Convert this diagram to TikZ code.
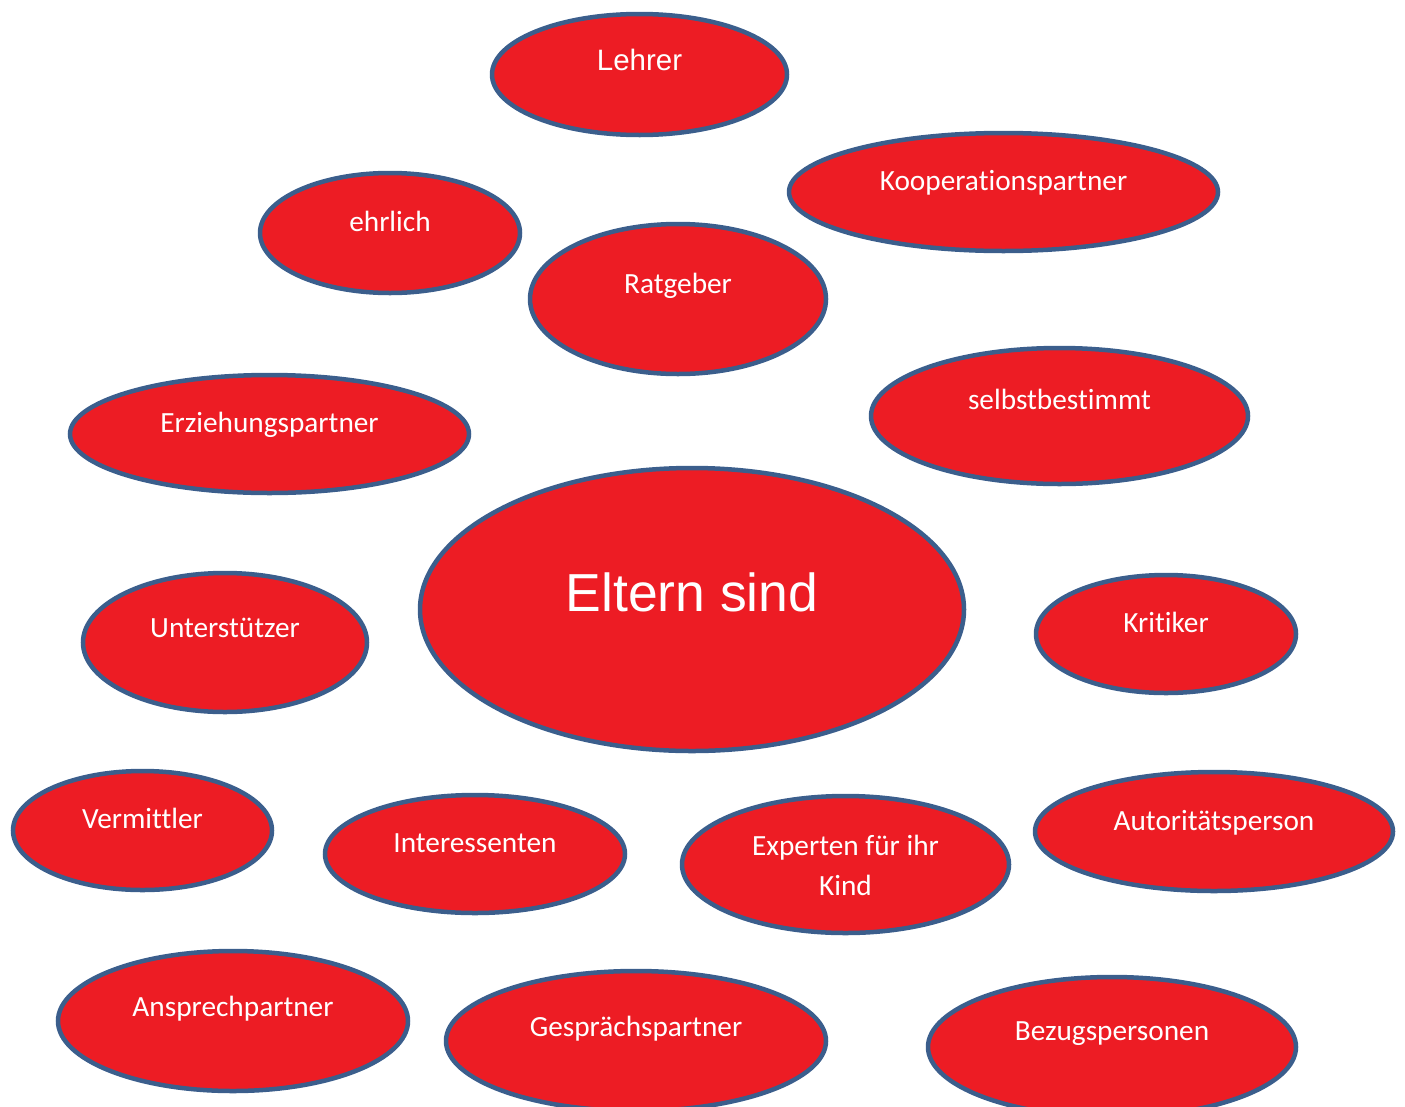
\documentclass[tikz,border=0pt]{standalone}
\usepackage{fontspec}
\setmainfont[Ligatures=NoCommon]{Carlito}
\newfontfamily\arialfont{Liberation Sans}
\usetikzlibrary{shapes.geometric}
\definecolor{bubblered}{HTML}{ED1C24}
\definecolor{bubbleedge}{HTML}{3B5E8C}
\tikzset{
  bubble/.style={ellipse, draw=bubbleedge, fill=bubblered, line width=4.5pt, inner sep=0pt},
  lbl/.style={text=white, anchor=base, font=\fontsize{29.3}{40}\selectfont, inner sep=0pt},
  albl/.style={text=white, anchor=base, font=\arialfont\fontsize{29.5}{34}\selectfont, inner sep=0pt},
}
\begin{document}
\begin{tikzpicture}[x=1pt,y=-1pt]
\useasboundingbox (0,0) rectangle (1405,1106);
\clip (0,0) rectangle (1405,1106);
% ellipses
\node[bubble, minimum width=295, minimum height=121] (lehrer) at (639.5,74.5) {};
\node[bubble, minimum width=429, minimum height=118] (koop) at (1003.5,192) {};
\node[bubble, minimum width=260, minimum height=120] (ehrlich) at (390,233) {};
\node[bubble, minimum width=296, minimum height=150] (ratgeber) at (678,299) {};
\node[bubble, minimum width=399, minimum height=118] (erzieh) at (269.5,434) {};
\node[bubble, minimum width=377, minimum height=136] (selbst) at (1059.5,416) {};
\node[bubble, minimum width=544, minimum height=283] (eltern) at (692,609.5) {};
\node[bubble, minimum width=284, minimum height=139] (unterst) at (225,642.5) {};
\node[bubble, minimum width=260, minimum height=118] (kritiker) at (1166,634) {};
\node[bubble, minimum width=259, minimum height=119] (vermittler) at (142.5,830.5) {};
\node[bubble, minimum width=300, minimum height=118] (interess) at (475,854) {};
\node[bubble, minimum width=327, minimum height=137] (experten) at (845.5,864.5) {};
\node[bubble, minimum width=358, minimum height=119] (autor) at (1214,831.5) {};
\node[bubble, minimum width=350, minimum height=140] (ansprech) at (233,1021) {};
\node[bubble, minimum width=380, minimum height=140] (gespraech) at (636,1041) {};
\node[bubble, minimum width=368, minimum height=140] (bezug) at (1112,1047) {};
% labels
\node[albl] (lehrer-t) at (639.5,70) {Lehrer};
\node[lbl] (koop-t) at (1003.5,190) {Kooperationspartner};
\node[lbl] (ehrlich-t) at (390,231) {ehrlich};
\node[lbl] (ratgeber-t) at (678,293) {Ratgeber};
\node[lbl] (erzieh-t) at (269.5,432) {Erziehungspartner};
\node[lbl] (selbst-t) at (1059.5,409) {selbstbestimmt};
\node[albl, font=\arialfont\fontsize{53.5}{60}\selectfont] (eltern-t) at (692,611.5) {Eltern sind};
\node[lbl] (unterst-t) at (225,637) {Unterstützer};
\node[lbl] (kritiker-t) at (1166,632) {Kritiker};
\node[lbl] (vermittler-t) at (142.5,828) {Vermittler};
\node[lbl] (interess-t) at (475,852) {Interessenten};
\node[lbl] (experten-t1) at (845.5,855) {Experten für ihr};
\node[lbl] (experten-t2) at (845.5,895) {Kind};
\node[lbl] (autor-t) at (1214,830) {Autoritätsperson};
\node[lbl] (ansprech-t) at (233,1016) {Ansprechpartner};
\node[lbl] (gespraech-t) at (636,1036) {Gesprächspartner};
\node[lbl] (bezug-t) at (1112,1040) {Bezugspersonen};
\end{tikzpicture}
\end{document}
